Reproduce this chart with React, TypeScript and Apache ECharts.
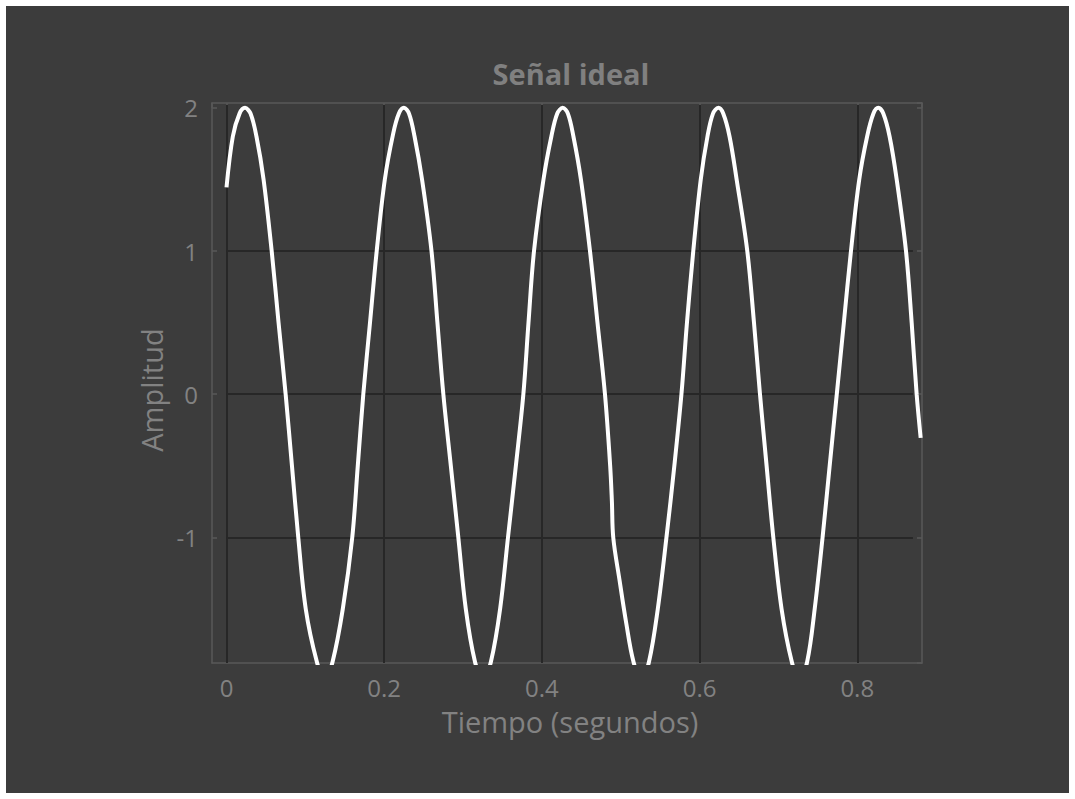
import React, { useEffect, useRef } from "react";
import * as echarts from "echarts";

const timeValues: number[] = [
  0, 0.008, 0.0165, 0.0235, 0.0305, 0.038, 0.047, 0.0573, 0.066, 0.075, 0.083, 0.091, 0.1005, 0.1144, 0.1245, 0.1347, 0.1475, 0.1595, 0.1665, 0.1735, 0.182, 0.1905, 0.2008, 0.2114, 0.2186, 0.225,
  0.2315, 0.2385, 0.248, 0.26, 0.2675, 0.275, 0.2845, 0.294, 0.3035, 0.315, 0.3253, 0.3355, 0.347, 0.357, 0.367, 0.3765, 0.383, 0.39, 0.402, 0.412, 0.4195, 0.4264,
  0.433, 0.44, 0.4495, 0.461, 0.4705, 0.48, 0.4866, 0.4888, 0.4905, 0.4985, 0.507, 0.516, 0.526, 0.536, 0.547, 0.558, 0.568, 0.577, 0.584, 0.592, 0.6015, 0.61, 0.617, 0.6238,
  0.63, 0.638, 0.647, 0.6605, 0.669, 0.6766, 0.685, 0.6935, 0.704, 0.7168, 0.7267, 0.7366, 0.746, 0.756, 0.765, 0.774, 0.783, 0.792, 0.8025, 0.8125, 0.8205, 0.8267,
  0.833, 0.841, 0.85, 0.8618, 0.869, 0.8753, 0.8804,
];
const amplitudeValues: number[] = [
  1.445, 1.8, 1.96, 2.0, 1.96, 1.8, 1.5, 1.0, 0.5, 0.0, -0.5, -1.0, -1.5, -1.865, -2.0, -1.865, -1.5, -1.0, -0.5, 0.0, 0.5, 1.0, 1.5, 1.82, 1.96, 2.0,
  1.96, 1.8, 1.5, 1.0, 0.5, 0.0, -0.5, -1.0, -1.5, -1.865, -2.0, -1.865, -1.5, -1.0, -0.5, 0.0, 0.5, 1.0, 1.5, 1.8, 1.96, 2.0,
  1.96, 1.8, 1.5, 1.0, 0.5, 0.0, -0.5, -0.75, -1.0, -1.3, -1.6, -1.865, -2.0, -1.865, -1.5, -1.0, -0.5, 0.0, 0.5, 1.0, 1.5, 1.8, 1.96, 2.0,
  1.96, 1.8, 1.5, 1.0, 0.5, 0.0, -0.5, -1.0, -1.5, -1.865, -2.0, -1.865, -1.5, -1.0, -0.5, 0.0, 0.5, 1.0, 1.5, 1.8, 1.96, 2.0,
  1.96, 1.8, 1.5, 1.0, 0.5, 0.0, -0.305,
];

// Axis ranges and grid line positions
const xRange: [number, number] = [-0.0184, 0.8821];
const yRange: [number, number] = [-1.8777, 2.034];
const xGridValues: number[] = [0, 0.2, 0.4, 0.6, 0.8];
const yGridValues: number[] = [-1, 0, 1];
const gridExtentX: [number, number] = [0, 0.8706];
const gridExtentY: [number, number] = [-1.8777, 2.02];

const titleText = "Señal ideal";
const xAxisTitle = "Tiempo (segundos)";
const yAxisTitle = "Amplitud";

const FONT = "'Open Sans', 'Noto Sans', sans-serif";
const OX = 6;
const OY = 6;

export default function App() {
  const ref = useRef<HTMLDivElement>(null);

  useEffect(() => {
    document.body.style.margin = "0";
    if (!ref.current) return;
    const chart = echarts.init(ref.current, undefined, { renderer: "svg" });

    const n = Math.min(timeValues.length, amplitudeValues.length);
    const data: [number, number][] = [];
    for (let i = 0; i < n; i++) data.push([timeValues[i], amplitudeValues[i]]);

    const gridLines: any[] = [];
    xGridValues.forEach((x) =>
      gridLines.push([{ coord: [x, gridExtentY[0]] }, { coord: [x, gridExtentY[1]] }])
    );
    yGridValues.forEach((y) =>
      gridLines.push([{ coord: [gridExtentX[0], y] }, { coord: [gridExtentX[1], y] }])
    );

    const boxColor = "#585858";
    const labelColor = "#828282";

    const axisCommon = {
      type: "value" as const,
      axisLine: { show: true, onZero: false, lineStyle: { color: boxColor, width: 1.5 } },
      axisTick: { show: true, inside: true, length: 5, lineStyle: { color: boxColor, width: 1.5 } },
      splitLine: { show: false },
    };

    chart.setOption({
      animation: false,
      backgroundColor: "#3c3c3c",
      grid: { left: 212 - OX, top: 103 - OY, width: 710, height: 560, containLabel: false },
      xAxis: [
        {
          ...axisCommon,
          position: "bottom",
          min: xRange[0],
          max: xRange[1],
          axisLabel: {
            show: true,
            showMinLabel: false,
            showMaxLabel: false,
            color: labelColor,
            fontSize: 24,
            fontFamily: FONT,
            margin: 12,
          },
        },
        {
          ...axisCommon,
          position: "top",
          min: xRange[0],
          max: xRange[1],
          axisLabel: { show: false },
        },
      ],
      yAxis: [
        {
          ...axisCommon,
          position: "left",
          min: yRange[0],
          max: yRange[1],
          axisLabel: {
            show: true,
            showMinLabel: false,
            showMaxLabel: false,
            color: labelColor,
            fontSize: 24,
            fontFamily: FONT,
            margin: 14,
          },
        },
        {
          ...axisCommon,
          position: "right",
          min: yRange[0],
          max: yRange[1],
          axisLabel: { show: false },
        },
      ],
      series: [
        {
          type: "line",
          data: [],
          xAxisIndex: 0,
          yAxisIndex: 0,
          z: 1,
          silent: true,
          markLine: {
            z: 1,
            silent: true,
            symbol: ["none", "none"],
            label: { show: false },
            lineStyle: { color: "#272727", width: 2, type: "solid" },
            data: gridLines,
          },
        },
        {
          type: "line",
          data,
          xAxisIndex: 0,
          yAxisIndex: 0,
          z: 5,
          showSymbol: false,
          smooth: 0.35,
          clip: true,
          lineStyle: { color: "#ffffff", width: 4 },
        },
      ],
      graphic: [
        {
          type: "text",
          x: 571 - OX,
          y: 73 - OY,
          style: {
            text: titleText,
            fill: "#808080",
            font: `bold 29px ${FONT}`,
            align: "center",
            verticalAlign: "middle",
            textAlign: "center",
            textVerticalAlign: "middle",
          },
        },
        {
          type: "text",
          x: 570 - OX,
          y: 721 - OY,
          style: {
            text: xAxisTitle,
            fill: labelColor,
            font: `29px ${FONT}`,
            align: "center",
            verticalAlign: "middle",
            textAlign: "center",
            textVerticalAlign: "middle",
          },
        },
        {
          type: "text",
          x: 151 - OX,
          y: 390 - OY,
          rotation: Math.PI / 2,
          style: {
            text: yAxisTitle,
            fill: labelColor,
            font: `29px ${FONT}`,
            align: "center",
            verticalAlign: "middle",
            textAlign: "center",
            textVerticalAlign: "middle",
          },
        },
      ],
    });

    return () => chart.dispose();
  }, []);

  return (
    <div style={{ position: "relative", width: 1075, height: 799, background: "#ffffff" }}>
      <div
        ref={ref}
        style={{ position: "absolute", left: OX, top: OY, width: 1075 - 2 * OX, height: 799 - 2 * OY }}
      />
    </div>
  );
}
